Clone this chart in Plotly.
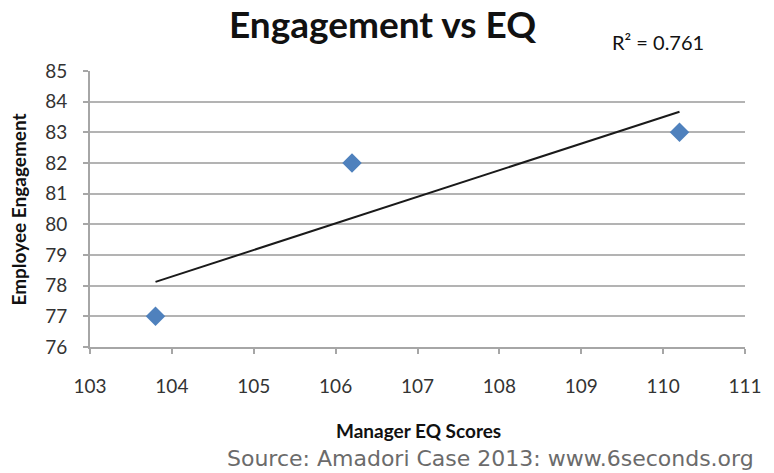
import numpy as np
import plotly.graph_objects as go

eq_scores = [103.8, 106.2, 110.2]
engagement = [77, 82, 83]
x_ticks = [103, 104, 105, 106, 107, 108, 109, 110, 111]
y_ticks = [76, 77, 78, 79, 80, 81, 82, 83, 84, 85]

slope, intercept = np.polyfit(eq_scores, engagement, 1)
pred = np.polyval([slope, intercept], eq_scores)
r2 = 1 - np.sum((np.array(engagement) - pred) ** 2) / np.sum((np.array(engagement) - np.mean(engagement)) ** 2)
tx = [min(eq_scores), max(eq_scores)]
ty = list(np.polyval([slope, intercept], tx))

fig = go.Figure()
fig.add_trace(go.Scatter(x=tx, y=ty, mode="lines", line=dict(color="#1a1a1a", width=2), hoverinfo="skip"))
fig.add_trace(go.Scatter(x=eq_scores, y=engagement, mode="markers",
                         marker=dict(symbol="diamond", size=15, color="#4F81BD")))

axis_common = dict(showline=True, linecolor="#a6a6a6", linewidth=2, ticks="outside", ticklen=5,
                   tickcolor="#a6a6a6", tickwidth=2, zeroline=False,
                   tickfont=dict(family="Lato", size=19, color="#333333"))
fig.update_xaxes(range=[103, 111], tickvals=x_ticks, showgrid=False, ticklabelstandoff=16, **axis_common)
fig.update_yaxes(range=[76, 85], tickvals=y_ticks, showgrid=True, gridcolor="#b3b3b3", gridwidth=2,
                 ticklabelstandoff=12, **axis_common)

fig.update_layout(
    width=774, height=473, showlegend=False,
    margin=dict(l=90, r=24, t=71, b=126),
    plot_bgcolor="white", paper_bgcolor="white",
    annotations=[
        dict(text="<b>Engagement vs EQ</b>", x=385, y=24, xref="paper", yref="paper", showarrow=False,
             font=dict(family="Lato", size=37, color="#111111")),
        dict(text="R² = %.3f" % r2, x=662, y=42, showarrow=False,
             font=dict(family="Lato", size=20, color="#111111")),
        dict(text="<b>Employee Engagement</b>", x=17, y=210, textangle=-90, showarrow=False,
             font=dict(family="Lato", size=19, color="#111111")),
        dict(text="<b>Manager EQ Scores</b>", x=421, y=430, showarrow=False,
             font=dict(family="Lato", size=19, color="#111111")),
        dict(text="Source: Amadori Case 2013: www.6seconds.org", x=494, y=458, showarrow=False,
             font=dict(family="DejaVu Sans", size=22, color="#6b6b6b")),
    ],
)
# convert annotation pixel positions to paper coords
pw, ph = 774 - 90 - 24, 473 - 71 - 126
for a in fig.layout.annotations:
    a.xref = "paper"; a.yref = "paper"
    a.x = (a.x - 90) / pw
    a.y = (473 - 126 - a.y) / ph
    a.xanchor = "center"; a.yanchor = "middle"

fig.write_html("out.html")
